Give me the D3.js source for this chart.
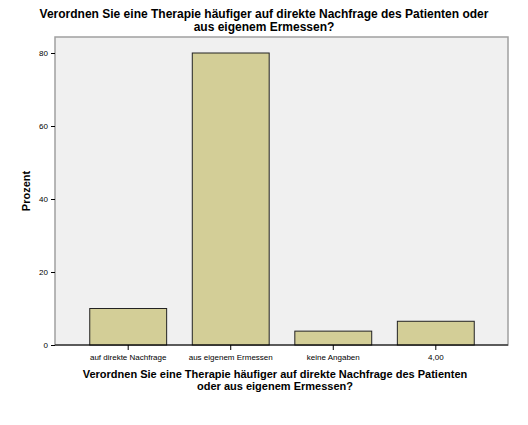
<!DOCTYPE html>
<html>
<head>
<meta charset="utf-8">
<script src="https://cdn.jsdelivr.net/npm/d3@7"></script>
<style>
  body { margin: 0; background: #fff; }
  text { font-family: "Liberation Sans", Arial, sans-serif; fill: #000; }
</style>
</head>
<body>
<svg id="chart" width="528" height="425"></svg>
<script>
// chart data
const categories = ['auf direkte Nachfrage', 'aus eigenem Ermessen', 'keine Angaben', '4,00'];
const percents = [10.0, 80.0, 3.8, 6.5];
const yTicks = [0, 20, 40, 60, 80];

const svg = d3.select('#chart');
const plotLeft = 55, plotRight = 508, plotTop = 37, plotBottom = 345;

const x = d3.scaleBand().domain(categories).range([79.5, 484.5]).paddingInner(0.25).paddingOuter(0.1);
const y = d3.scaleLinear().domain([0, 80]).range([plotBottom, 53]);

// plot background
svg.append('rect')
  .attr('x', plotLeft).attr('y', plotTop)
  .attr('width', plotRight - plotLeft).attr('height', plotBottom - plotTop)
  .attr('fill', '#f0f0f0').attr('stroke', '#a0a0a0').attr('stroke-width', 1.5);

// bars
svg.selectAll('.bar').data(percents).join('rect')
  .attr('class', 'bar')
  .attr('x', (d, i) => x(categories[i]))
  .attr('y', d => y(d))
  .attr('width', x.bandwidth())
  .attr('height', d => plotBottom - y(d))
  .attr('fill', '#d3ce97').attr('stroke', '#222').attr('stroke-width', 1);

// axes
const yAxis = svg.append('g').attr('transform', `translate(${plotLeft},0)`)
  .call(d3.axisLeft(y).tickValues(yTicks).tickSize(4).tickSizeOuter(0));
yAxis.select('.domain').remove();
yAxis.selectAll('text').attr('font-size', 8);

const xAxis = svg.append('g').attr('transform', `translate(0,${plotBottom})`)
  .call(d3.axisBottom(x).tickSize(5).tickSizeOuter(0));
xAxis.select('.domain').attr('d', `M${plotLeft},0H${plotRight}`).attr('stroke', '#000');
xAxis.selectAll('text').attr('font-size', 8).attr('dy', '0.9em');

// titles
const title = svg.append('text').attr('text-anchor', 'middle')
  .attr('font-size', 12).attr('font-weight', 'bold');
title.append('tspan').attr('x', 264).attr('y', 18)
  .text('Verordnen Sie eine Therapie häufiger auf direkte Nachfrage des Patienten oder');
title.append('tspan').attr('x', 264).attr('y', 31).text('aus eigenem Ermessen?');

const xTitle = svg.append('text').attr('text-anchor', 'middle')
  .attr('font-size', 11).attr('font-weight', 'bold');
xTitle.append('tspan').attr('x', 275).attr('y', 378)
  .text('Verordnen Sie eine Therapie häufiger auf direkte Nachfrage des Patienten');
xTitle.append('tspan').attr('x', 275).attr('y', 390).text('oder aus eigenem Ermessen?');

svg.append('text').attr('transform', 'translate(30,191) rotate(-90)')
  .attr('text-anchor', 'middle').attr('font-size', 11).attr('font-weight', 'bold')
  .text('Prozent');
</script>
</body>
</html>
